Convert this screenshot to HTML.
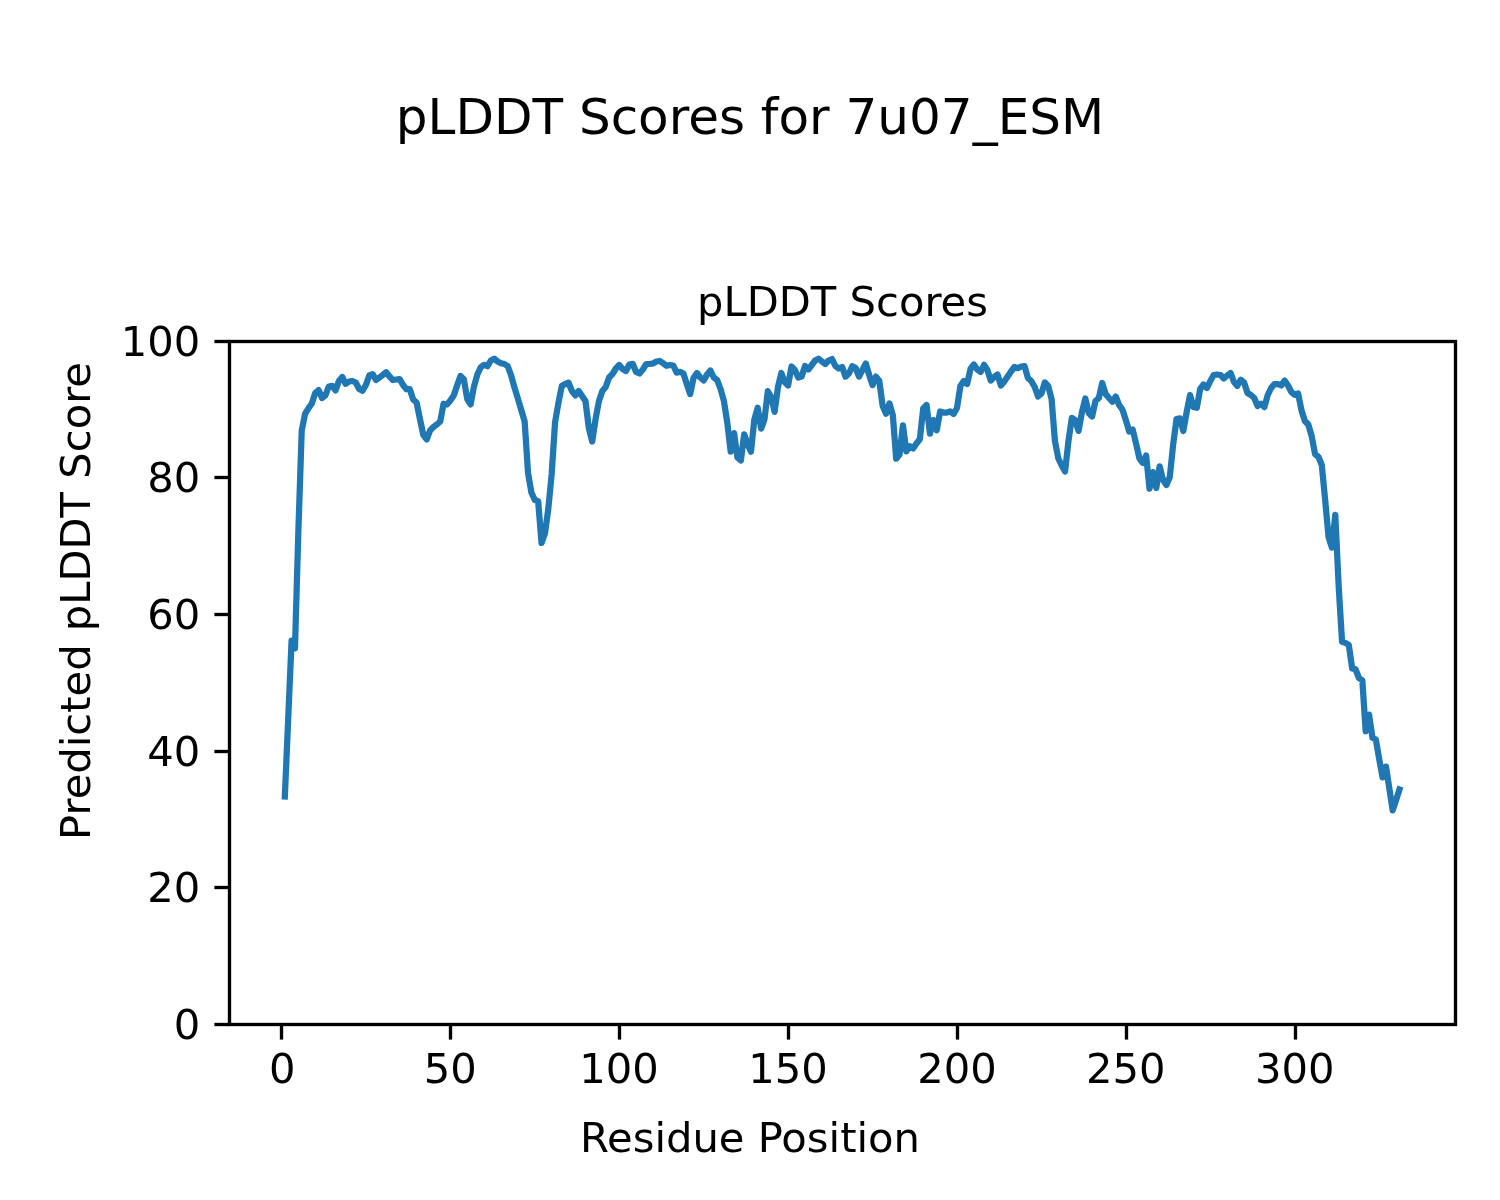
<!DOCTYPE html>
<html><head><meta charset="utf-8"><title>pLDDT Scores for 7u07_ESM</title>
<style>
html,body{margin:0;padding:0;background:#fff;}
body{width:1500px;height:1200px;overflow:hidden;}
svg{display:block;}
text{font-family:"DejaVu Sans","Liberation Sans",sans-serif;fill:#000;}
.t10{font-size:41.67px;}
.t12{font-size:50px;}
</style></head><body>
<svg width="1500" height="1200" viewBox="0 0 1500 1200">
<rect x="0" y="0" width="1500" height="1200" fill="#ffffff"/>
<text class="t12" x="750" y="134" text-anchor="middle">pLDDT Scores for 7u07_ESM</text>
<text class="t10" x="842.5" y="316" text-anchor="middle">pLDDT Scores</text>
<text class="t10" x="750" y="1152" text-anchor="middle">Residue Position</text>
<text class="t10" transform="translate(90,601) rotate(-90)" text-anchor="middle">Predicted pLDDT Score</text>
<g stroke="#000" stroke-width="3.333" fill="none">
<line x1="281.50" y1="1024.50" x2="281.50" y2="1039.60"/>
<line x1="450.50" y1="1024.50" x2="450.50" y2="1039.60"/>
<line x1="619.50" y1="1024.50" x2="619.50" y2="1039.60"/>
<line x1="788.50" y1="1024.50" x2="788.50" y2="1039.60"/>
<line x1="957.50" y1="1024.50" x2="957.50" y2="1039.60"/>
<line x1="1126.50" y1="1024.50" x2="1126.50" y2="1039.60"/>
<line x1="1295.50" y1="1024.50" x2="1295.50" y2="1039.60"/>
<line x1="214.40" y1="1024.50" x2="229.50" y2="1024.50"/>
<line x1="214.40" y1="887.50" x2="229.50" y2="887.50"/>
<line x1="214.40" y1="751.50" x2="229.50" y2="751.50"/>
<line x1="214.40" y1="614.50" x2="229.50" y2="614.50"/>
<line x1="214.40" y1="477.50" x2="229.50" y2="477.50"/>
<line x1="214.40" y1="341.50" x2="229.50" y2="341.50"/>
</g>
<text class="t10" x="282.15" y="1083.00" text-anchor="middle">0</text>
<text class="t10" x="450.24" y="1083.00" text-anchor="middle">50</text>
<text class="t10" x="619.12" y="1083.00" text-anchor="middle">100</text>
<text class="t10" x="788.01" y="1083.00" text-anchor="middle">150</text>
<text class="t10" x="956.89" y="1083.00" text-anchor="middle">200</text>
<text class="t10" x="1125.78" y="1083.00" text-anchor="middle">250</text>
<text class="t10" x="1294.66" y="1083.00" text-anchor="middle">300</text>
<text class="t10" x="200.20" y="1039.40" text-anchor="end">0</text>
<text class="t10" x="200.20" y="902.40" text-anchor="end">20</text>
<text class="t10" x="200.20" y="766.40" text-anchor="end">40</text>
<text class="t10" x="200.20" y="629.40" text-anchor="end">60</text>
<text class="t10" x="200.20" y="492.40" text-anchor="end">80</text>
<text class="t10" x="200.20" y="356.40" text-anchor="end">100</text>
<clipPath id="ax"><rect x="229.40" y="341.40" width="1226.20" height="683.00"/></clipPath>
<path clip-path="url(#ax)" d="M284.83 796.50 L288.21 718.60 L291.59 640.70 L294.96 648.30 L298.34 532.00 L301.72 430.50 L305.10 413.70 L308.48 408.30 L311.85 403.50 L315.23 393.00 L318.61 390.00 L321.99 398.00 L325.36 395.50 L328.74 386.50 L332.12 385.80 L335.50 390.50 L338.87 381.00 L342.25 377.00 L345.63 383.80 L349.01 381.50 L352.39 381.00 L355.76 382.50 L359.14 389.00 L362.52 390.80 L365.90 385.00 L369.27 375.50 L372.65 374.10 L376.03 380.00 L379.41 377.50 L382.78 375.00 L386.16 372.20 L389.54 376.50 L392.92 380.00 L396.30 379.50 L399.67 379.10 L403.05 385.00 L406.43 389.20 L409.81 389.20 L413.18 399.50 L416.56 402.50 L419.94 419.00 L423.32 435.00 L426.69 439.50 L430.07 430.50 L433.45 427.00 L436.83 424.50 L440.21 421.50 L443.58 403.70 L446.96 404.50 L450.34 400.50 L453.72 395.50 L457.09 385.50 L460.47 376.00 L463.85 379.20 L467.23 399.00 L470.60 404.40 L473.98 386.50 L477.36 374.50 L480.74 367.20 L484.12 364.80 L487.49 366.20 L490.87 360.50 L494.25 358.70 L497.63 361.50 L501.00 363.20 L504.38 364.00 L507.76 366.20 L511.14 375.50 L514.51 387.70 L517.89 398.70 L521.27 410.00 L524.65 421.50 L528.03 473.00 L531.40 492.50 L534.78 500.00 L538.16 501.20 L541.54 542.90 L544.91 533.50 L548.29 509.00 L551.67 474.00 L555.05 422.50 L558.42 402.80 L561.80 386.00 L565.18 384.00 L568.56 382.80 L571.94 391.00 L575.31 395.40 L578.69 391.00 L582.07 396.00 L585.45 401.00 L588.82 428.00 L592.20 441.50 L595.58 419.00 L598.96 401.00 L602.33 391.00 L605.71 387.00 L609.09 377.50 L612.47 374.00 L615.85 368.50 L619.22 365.00 L622.60 369.00 L625.98 371.00 L629.36 364.50 L632.73 363.80 L636.11 372.00 L639.49 373.50 L642.87 369.50 L646.24 364.00 L649.62 363.80 L653.00 363.50 L656.38 361.50 L659.75 361.00 L663.13 363.20 L666.51 365.80 L669.89 365.00 L673.27 365.50 L676.64 372.60 L680.02 371.80 L683.40 373.50 L686.78 384.00 L690.15 394.00 L693.53 378.00 L696.91 373.00 L700.29 377.50 L703.66 380.50 L707.04 374.50 L710.42 370.50 L713.80 377.50 L717.18 380.00 L720.55 389.00 L723.93 401.00 L727.31 423.00 L730.69 451.60 L734.06 433.10 L737.44 457.50 L740.82 460.50 L744.20 434.40 L747.57 444.00 L750.95 451.70 L754.33 419.50 L757.71 407.80 L761.09 428.60 L764.46 419.50 L767.84 391.20 L771.22 397.00 L774.60 411.90 L777.97 387.00 L781.35 373.00 L784.73 382.00 L788.11 385.50 L791.48 366.50 L794.86 370.00 L798.24 377.50 L801.62 376.50 L805.00 366.00 L808.37 369.50 L811.75 365.00 L815.13 360.50 L818.51 358.60 L821.88 361.50 L825.26 364.00 L828.64 360.50 L832.02 359.00 L835.39 366.00 L838.77 368.50 L842.15 367.00 L845.53 376.60 L848.91 373.50 L852.28 366.20 L855.66 368.00 L859.04 376.50 L862.42 370.00 L865.79 363.50 L869.17 375.00 L872.55 385.10 L875.93 376.60 L879.30 381.00 L882.68 406.00 L886.06 413.70 L889.44 403.40 L892.82 415.00 L896.19 458.70 L899.57 454.50 L902.95 425.30 L906.33 451.40 L909.70 446.20 L913.08 448.40 L916.46 443.50 L919.84 439.20 L923.21 408.50 L926.59 405.00 L929.97 433.70 L933.35 420.10 L936.73 430.20 L940.10 411.50 L943.48 412.50 L946.86 412.50 L950.24 411.50 L953.61 414.00 L956.99 408.00 L960.37 386.00 L963.75 381.00 L967.12 384.00 L970.50 369.00 L973.88 364.50 L977.26 369.50 L980.64 372.00 L984.01 364.80 L987.39 370.00 L990.77 380.50 L994.15 377.00 L997.52 374.50 L1000.90 385.60 L1004.28 381.50 L1007.66 376.50 L1011.03 371.50 L1014.41 367.00 L1017.79 368.20 L1021.17 366.50 L1024.55 366.20 L1027.92 378.00 L1031.30 381.00 L1034.68 387.00 L1038.06 396.50 L1041.43 393.50 L1044.81 382.50 L1048.19 386.00 L1051.57 399.00 L1054.94 441.00 L1058.32 458.50 L1061.70 465.50 L1065.08 471.50 L1068.45 441.00 L1071.83 417.90 L1075.21 420.20 L1078.59 430.90 L1081.97 412.00 L1085.34 398.50 L1088.72 413.00 L1092.10 416.50 L1095.48 401.00 L1098.85 398.00 L1102.23 383.00 L1105.61 394.00 L1108.99 398.00 L1112.36 401.70 L1115.74 396.50 L1119.12 405.00 L1122.50 409.80 L1125.88 420.30 L1129.25 431.50 L1132.63 429.60 L1136.01 443.30 L1139.39 458.30 L1142.76 462.90 L1146.14 455.50 L1149.52 488.70 L1152.90 472.10 L1156.27 487.90 L1159.65 466.30 L1163.03 480.00 L1166.41 484.90 L1169.79 477.00 L1173.16 444.50 L1176.54 419.00 L1179.92 418.40 L1183.30 431.00 L1186.67 412.00 L1190.05 395.00 L1193.43 407.00 L1196.81 407.80 L1200.18 389.00 L1203.56 384.50 L1206.94 388.00 L1210.32 381.00 L1213.70 375.00 L1217.07 374.50 L1220.45 375.00 L1223.83 378.50 L1227.21 375.50 L1230.58 373.00 L1233.96 382.00 L1237.34 385.80 L1240.72 379.80 L1244.09 382.50 L1247.47 393.00 L1250.85 395.00 L1254.23 398.00 L1257.61 406.00 L1260.98 403.70 L1264.36 407.10 L1267.74 395.00 L1271.12 388.00 L1274.49 384.00 L1277.87 384.00 L1281.25 385.50 L1284.63 380.50 L1288.00 385.50 L1291.38 392.00 L1294.76 394.80 L1298.14 393.50 L1301.52 410.50 L1304.89 421.00 L1308.27 424.50 L1311.65 436.00 L1315.03 454.00 L1318.40 456.80 L1321.78 465.00 L1325.16 500.00 L1328.54 537.00 L1331.91 547.60 L1335.29 514.90 L1338.67 586.20 L1342.05 641.80 L1345.43 642.90 L1348.80 644.90 L1352.18 668.50 L1355.56 669.30 L1358.94 678.00 L1362.31 680.30 L1365.69 731.40 L1369.07 714.60 L1372.45 737.80 L1375.82 739.50 L1379.20 759.00 L1382.58 777.40 L1385.96 766.60 L1389.34 788.50 L1392.71 810.40 L1396.09 799.95 L1399.47 789.50" fill="none" stroke="#1f77b4" stroke-width="6.25" stroke-linejoin="round" stroke-linecap="square"/>
<rect x="229.50" y="341.50" width="1226.00" height="683.00" fill="none" stroke="#000" stroke-width="3.333" stroke-linejoin="miter"/>
</svg>
</body></html>
